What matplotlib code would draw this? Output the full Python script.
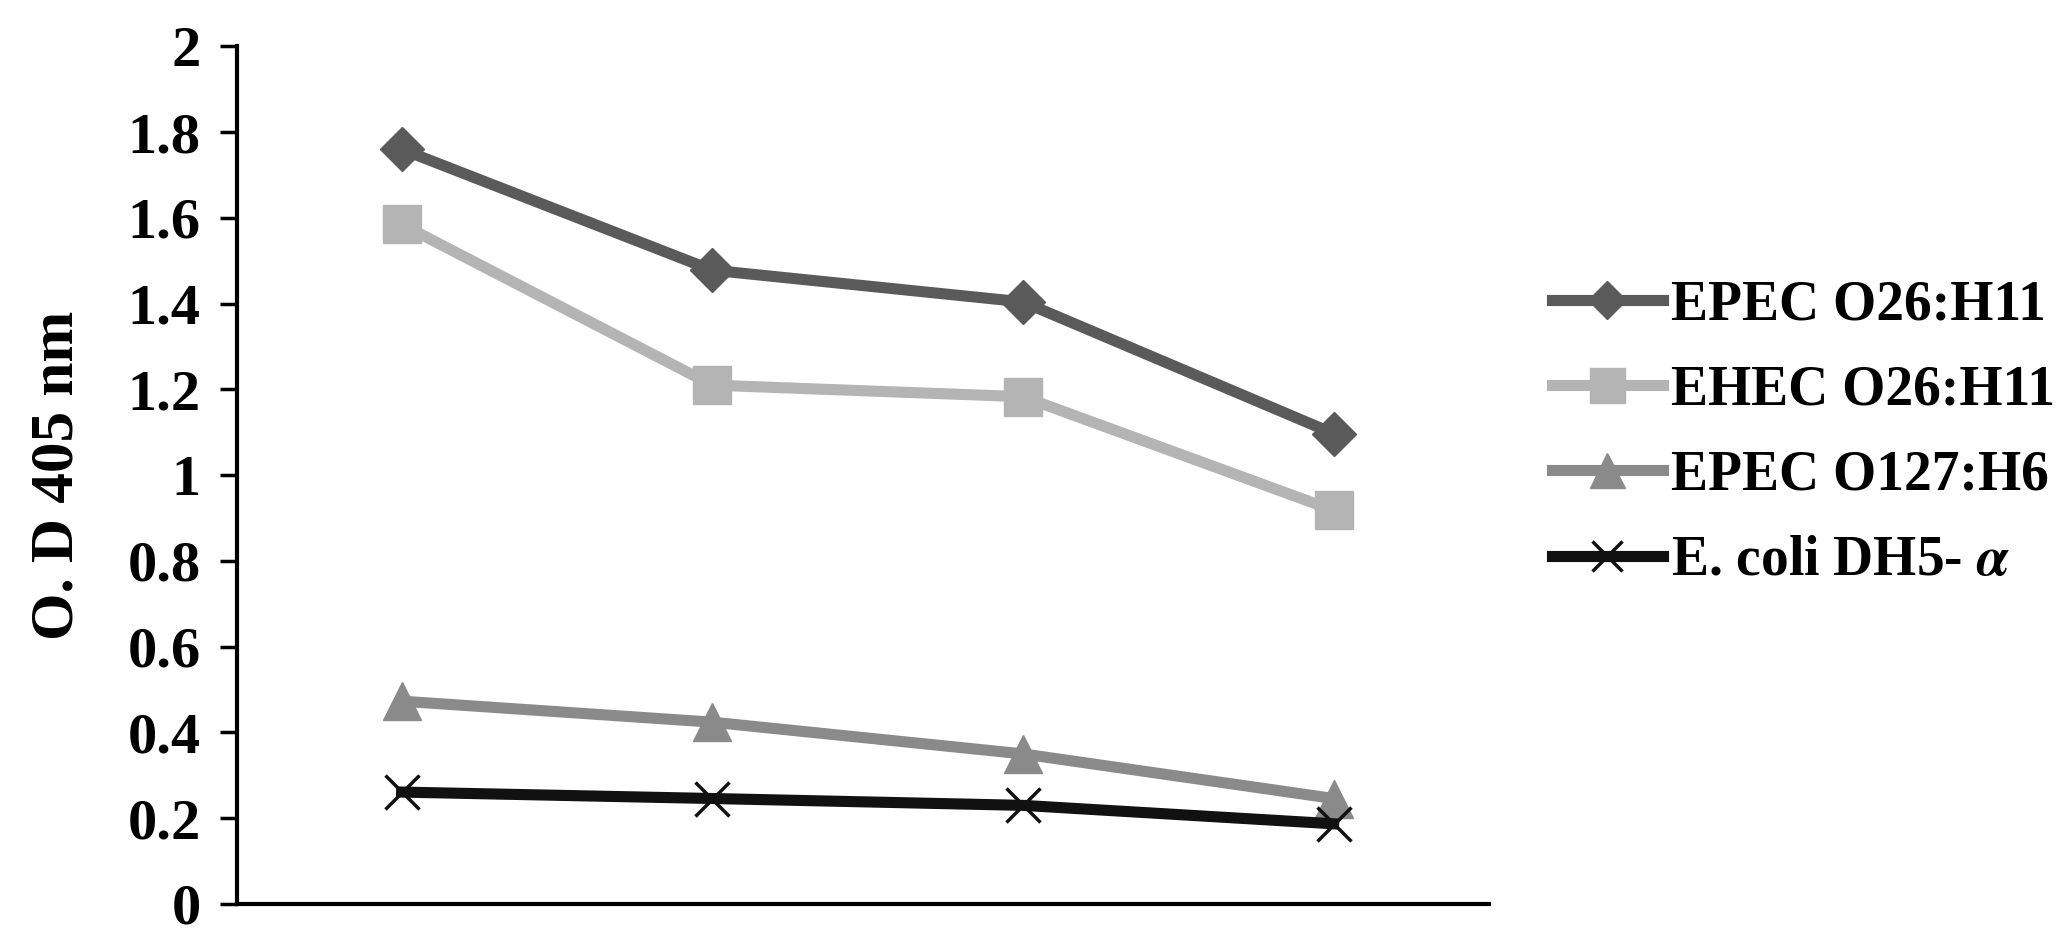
import matplotlib
matplotlib.use("Agg")
import matplotlib.pyplot as plt

plt.rcParams['font.family'] = ['Liberation Serif', 'DejaVu Serif']
plt.rcParams['font.weight'] = 'bold'
plt.rcParams['mathtext.fontset'] = 'stix'

# four sampling points, no x labels in the original
x_pos = [0, 1, 2, 3]

epec_o26 = [1.76, 1.478, 1.404, 1.097]
ehec_o26 = [1.585, 1.21, 1.183, 0.918]
epec_o127 = [0.473, 0.424, 0.35, 0.246]
dh5 = [0.261, 0.246, 0.23, 0.187]

names = ['EPEC O26:H11', 'EHEC O26:H11', 'EPEC O127:H6', 'E. coli DH5- $\\alpha$']
yticks = [0, 0.2, 0.4, 0.6, 0.8, 1, 1.2, 1.4, 1.6, 1.8, 2]
ytick_labels = ['0', '0.2', '0.4', '0.6', '0.8', '1', '1.2', '1.4', '1.6', '1.8', '2']

fig = plt.figure(figsize=(20.66, 9.46), dpi=100)
ax = fig.add_axes([0.1147, 0.0444, 0.606, 0.9066])

ax.plot(x_pos, epec_o26, color='#5a5a5a', lw=8, marker='D', ms=22, label=names[0])
ax.plot(x_pos, ehec_o26, color='#b4b4b4', lw=8, marker='s', ms=28, label=names[1])
ax.plot(x_pos, epec_o127, color='#8a8a8a', lw=8, marker='^', ms=28, label=names[2])
ax.plot(x_pos, dh5, color='#111111', lw=8, marker='x', ms=24, mew=2.5, label=names[3])

ax.set_xlim(-0.53, 3.5)
ax.set_ylim(0, 2)
ax.set_yticks(yticks)
ax.set_yticklabels(ytick_labels, fontsize=42, fontweight='bold')
ax.set_xticks([])
ax.tick_params(axis='y', direction='out', length=12, width=2.5, pad=14)
for sp in ['top', 'right']:
    ax.spines[sp].set_visible(False)
ax.spines['left'].set_linewidth(3)
ax.spines['bottom'].set_linewidth(3)

ax.set_ylabel('O. D 405 nm', fontsize=44, fontweight='bold', labelpad=30)

leg = fig.legend(loc='upper left', bbox_to_anchor=(0.751, 0.705), frameon=False,
                 handlelength=2.0, handletextpad=0.15, labelspacing=0.6,
                 borderpad=0, borderaxespad=0, markerscale=0.9,
                 prop={'weight': 'bold', 'size': 40})

fig.savefig('out.png', dpi=100)
